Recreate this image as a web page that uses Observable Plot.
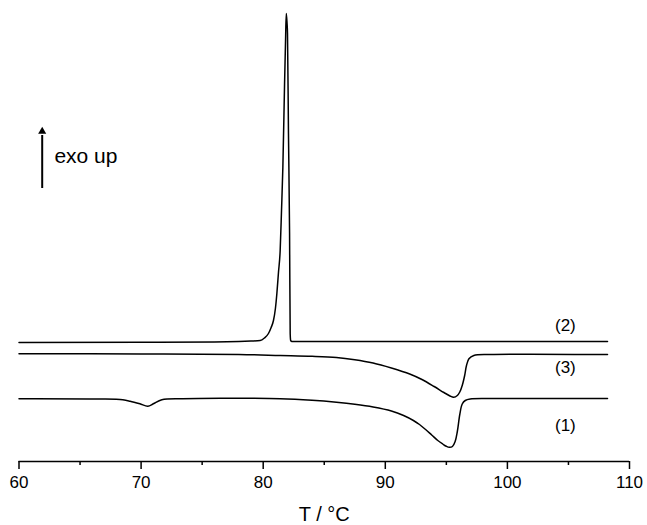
<!DOCTYPE html>
<html>
<head>
<meta charset="utf-8">
<script src="https://cdn.jsdelivr.net/npm/d3@7"></script>
<script src="https://cdn.jsdelivr.net/npm/@observablehq/plot@0.6"></script>
<style>
  html, body { margin: 0; padding: 0; background: white; }
</style>
</head>
<body>
<div id="chart"></div>
<script>
// Temperature (°C) and heat-flow signal (arbitrary units, offset per curve)
const curve2T = [60, 70, 76, 78, 79, 79.75, 80.1, 80.43, 80.65, 80.84, 81.0, 81.12, 81.25, 81.39, 81.5, 81.61, 81.75, 81.83, 81.89, 81.95, 81.99, 82.07, 82.16, 82.21, 82.25, 82.35, 90, 100, 108.2];
const curve2V = [11.9, 11.92, 11.95, 12.0, 12.05, 12.1, 12.35, 12.8, 13.4, 14.1, 15.3, 16.8, 18.9, 21.1, 25.1, 29.4, 37.8, 42.1, 44.8, 43.9, 42.8, 32.8, 22.8, 12.8, 12.1, 12.0, 12.0, 12.0, 12.0];

const curve3T = [60, 70, 78, 81.4, 84, 86, 87.5, 89, 90.5, 92, 93, 94, 94.8, 95.3, 95.6, 95.9, 96.1, 96.3, 96.5, 96.65, 96.85, 97.25, 98.6, 108.2];
const curve3V = [10.78, 10.76, 10.7, 10.6, 10.52, 10.4, 10.18, 9.85, 9.35, 8.75, 8.2, 7.5, 6.9, 6.55, 6.42, 6.6, 6.95, 7.6, 8.6, 9.6, 10.27, 10.6, 10.7, 10.7];

const curve1T = [60, 66.6, 68.5, 69.1, 69.9, 70.55, 71.0, 71.7, 73.4, 76.5, 81.4, 84, 86, 87.5, 89, 90.5, 91.5, 92.3, 92.8, 93.3, 93.8, 94.3, 94.7, 95.0, 95.25, 95.5, 95.72, 95.9, 96.1, 96.3, 96.55, 96.95, 98.6, 108.2];
const curve1V = [6.28, 6.25, 6.17, 6.03, 5.77, 5.53, 5.77, 6.18, 6.28, 6.32, 6.28, 6.12, 5.92, 5.72, 5.45, 5.05, 4.6, 4.1, 3.7, 3.2, 2.65, 2.1, 1.75, 1.52, 1.42, 1.5, 2.0, 3.0, 4.7, 5.75, 6.1, 6.25, 6.3, 6.3];

const curveLabels = ["(2)", "(3)", "(1)"];
const labelValues = [13.6, 9.4, 3.6];

const majorTicks = [60, 70, 80, 90, 100, 110];
const minorTicks = [65, 75, 85, 95, 105];

const toRows = (ts, vs) => ts.map((t, i) => ({T: t, V: vs[i]}));
const rows2 = toRows(curve2T, curve2V);
const rows3 = toRows(curve3T, curve3V);
const rows1 = toRows(curve1T, curve1V);
const labelRows = curveLabels.map((l, i) => ({label: l, V: labelValues[i]}));

const chart = Plot.plot({
  width: 647,
  height: 525,
  marginLeft: 18.5,
  marginRight: 18,
  marginTop: 11,
  marginBottom: 64,
  x: {domain: [60, 110]},
  y: {domain: [0, 45], axis: null},
  style: {fontFamily: "'Liberation Sans', Arial, sans-serif", background: "white", color: "black"},
  marks: [
    Plot.ruleY([0], {strokeWidth: 1.5}),
    Plot.axisX({ticks: majorTicks, tickSize: 8, tickPadding: 6, fontSize: 17, label: null, strokeWidth: 1.5}),
    Plot.axisX({ticks: minorTicks, tickSize: 4, tickFormat: () => "", label: null, strokeWidth: 1.5}),
    Plot.text(["T / °C"], {frameAnchor: "bottom", lineAnchor: "middle", dy: 53, fontSize: 20}),
    Plot.line(rows2, {x: "T", y: "V", stroke: "black", strokeWidth: 1.5, curve: "monotone-x"}),
    Plot.line(rows3, {x: "T", y: "V", stroke: "black", strokeWidth: 1.5, curve: "catmull-rom"}),
    Plot.line(rows1, {x: "T", y: "V", stroke: "black", strokeWidth: 1.5, curve: "catmull-rom"}),
    Plot.text(labelRows, {x: 104.75, y: "V", text: "label", fontSize: 17, lineAnchor: "middle"}),
    Plot.ruleX([61.9], {y1: 27.3, y2: 32.6, strokeWidth: 2}),
    Plot.dot([61.9], {x: d => d, y: 33.0, symbol: "triangle", r: 3, fill: "black", stroke: null}),
    Plot.text(["exo up"], {x: 62.9, y: 30.57, fontSize: 21, textAnchor: "start", lineAnchor: "middle"})
  ]
});
document.getElementById("chart").appendChild(chart);
</script>
</body>
</html>
